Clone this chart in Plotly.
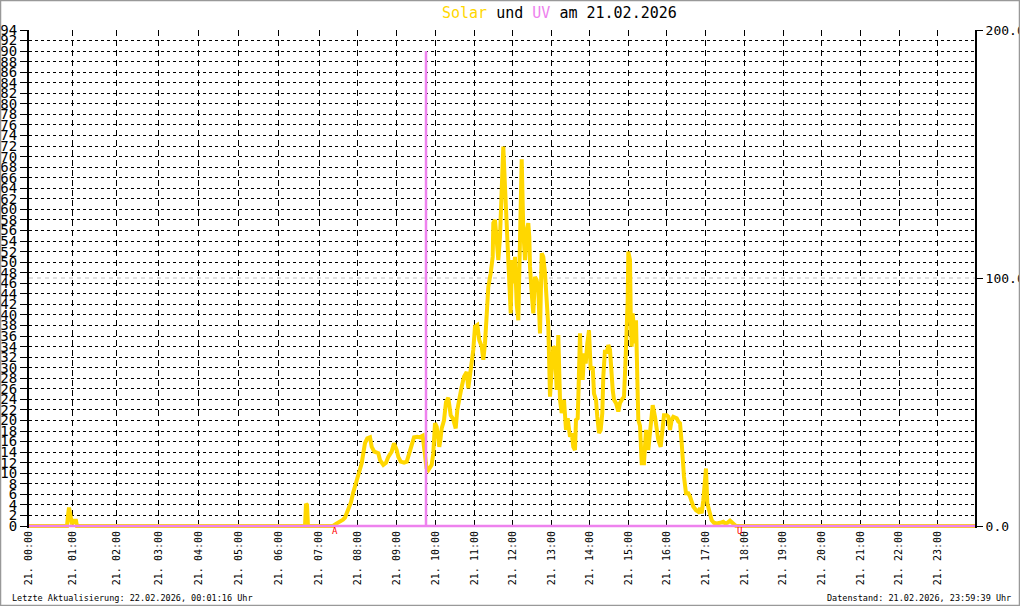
import plotly.graph_objects as go

# ---------------- data ----------------
hour_labels = ["21. %02d:00" % h for h in range(24)]
# sample index at which each hour starts (logger samples are not evenly spread)
hour_index = [0, 43.3, 87.3, 129.3, 169.5, 209.7, 249.9, 290, 328.7, 367.3, 406.3, 445.3,
              483.7, 522.3, 560.7, 599.3, 637.7, 676.7, 715.3, 754, 792.7, 831.4, 870, 908.7]
sample_max = 946

solar_sample = [0, 38, 39, 40, 41, 42, 43, 44, 47, 48,
                276, 277, 278, 279,
                304, 307, 311, 314, 316, 318, 320, 322, 324, 326, 328, 330, 332.7, 334.5, 336, 338.3, 341,
                342.7, 345.3, 349.3, 351, 354.3, 357, 359.3, 362.7, 365, 367.7, 369.3, 371.7, 375, 377.7,
                380.3, 382.7, 385, 388.3, 391, 393.7, 395.3, 396, 397.5, 399.3, 402.7, 404.3, 406, 407.7,
                410.3, 411.5, 412.7, 415, 417, 419.3, 421.7, 424.3, 426.7, 428.3, 430.3, 432.7, 435, 437.7,
                439.3, 441, 442.7, 444.3, 446, 448.3, 450.3, 452.7, 454.3, 456, 457.7, 459.3, 461.7, 463.7,
                464.3, 466, 467.7, 469.3, 471, 472, 473.7, 474.3, 476, 477, 478.3, 479.3, 480.3, 481.7, 483,
                484.3, 486, 487.7, 489.3, 491, 492.7, 494.3, 496, 497.7, 499.3, 500.3, 501, 502.7, 504.3,
                506, 507.7, 509.3, 511, 512.7, 514.3, 516, 517.7, 519.3, 521, 522.7, 524.3, 526, 527.7,
                529.3, 531, 532.7, 535, 537, 538.7, 541, 542.7, 544.3, 546, 547, 548.7, 549.7, 551, 552,
                553.7, 555, 556.7, 558.3, 560, 561.7, 563.7, 565, 567, 568.3, 570, 571.7, 573.3, 574.3,
                576, 577.7, 579.3, 581, 582, 583.7, 585, 587, 589.3, 591, 593.7, 595, 596.3, 597.7, 598.7,
                599.3, 601, 601.7, 602.7, 603.7, 606, 607, 608.3, 609.3, 611, 612.7, 615, 617, 619.3,
                621.7, 623.7, 626, 627.7, 629.3, 631.7, 633.7, 635, 637.7, 639.3, 641, 642.7, 644.3, 647.7,
                649.3, 651, 652.7, 653.7, 655, 657, 659.3, 661, 662.7, 664.3, 667, 669.3, 671, 672.7,
                674.3, 675.3, 677, 678.3, 679.3, 681, 682.7, 685, 687.7, 691, 694.3, 696, 698.3, 701,
                703.3, 705.3, 707, 946]
solar_value = [0, 0, 2.0, 3.5, 2.5, 1.5, 0.3, 1.0, 1.0, 0,
               0, 4.2, 4.0, 0,
               0, 0.4, 0.8, 1.2, 1.6, 2.5, 3.5, 4.5, 6.2, 7.5, 8.4, 9.5, 11.9, 14, 15.7, 16.6, 16.8,
               15, 14.1, 13.8, 12.5, 11.6, 12, 13.1, 14.1, 15.7, 14.4, 13.1, 12.2, 12, 12.2,
               13.8, 15.7, 16.8, 16.9, 16.8, 17.1, 15, 13.1, 11, 10.6, 11.6, 13.8, 19.5, 18.8,
               15, 16.5, 18.5, 20, 23.5, 24.3, 21, 20.2, 18.5, 22, 24.5, 26.4, 28.3, 29.2,
               26.1, 28.3, 30.2, 33.4, 37.8, 38.1, 35.2, 34, 31.5, 34.6, 40, 45.3, 47.9, 51,
               57.4, 58, 54.2, 50.4, 54.8, 59.9, 64.3, 71.9, 64.3, 60.5, 54.8, 50.4, 47.9, 40.3, 50.4,
               46, 51, 42, 39, 51.7, 69.5, 56, 50.4, 56, 57.4, 54.8, 49.1, 44.1, 40.3,
               47.2, 46.6, 44.7, 36.5, 51.7, 51, 47.9, 42.8, 37.8, 24.5, 30.2, 34, 33.7, 25.8,
               36.2, 23.9, 21.4, 23.9, 18.2, 20.4, 16.9, 17.6, 15, 14.4, 20.1, 20.4, 27, 36.5, 30.2,
               27.7, 32.7, 30.8, 34.6, 37.1, 29.6, 30.2, 25.1, 23.9, 20.7, 17.6, 18.2, 21.4, 28.3,
               33.4, 32.7, 34.3, 33.4, 30.2, 25.8, 23.9, 23.3, 21.7, 23.3, 24.2, 24.5, 30.2, 36.5, 42.8,
               52, 50.4, 40, 34, 40.3, 34.6, 39, 30.2, 20.1, 19, 11.9, 11.9, 18.2, 14.4,
               19.5, 22.9, 20.7, 17.6, 16.3, 15, 18.2, 21, 21, 20.7, 18.2, 20.1, 20.7, 20.4,
               19.8, 19.5, 15.7, 12.5, 9.3, 6.2, 6.2, 5.6, 4.3, 3.7, 3.0, 2.7, 3.4, 2.4,
               4.9, 8.1, 10.9, 4.3, 3.4, 1.8, 1.1, 0.6, 0.5, 0.6, 0.8, 0.5, 0.6, 1,
               0.6, 0.2, 0, 0]

uv_sample = [0, 397, 397, 397, sample_max]
uv_value = [0, 0, 90, 0, 0]

sunrise_sample = 306
sunset_sample = 710

left_ticks = list(range(0, 95, 2))
right_ticks = [0, 100, 200]
right_ticktext = ["0.0", "100.0", "200.0"]

title_date = "21.02.2026"
footer_left = "Letzte Aktualisierung: 22.02.2026, 00:01:16 Uhr"
footer_right = "Datenstand: 21.02.2026, 23:59:39 Uhr"

# ---------------- figure ----------------
W, H = 1020, 606
L, R, T, B = 29, 45, 30, 78
PW, PH = W - L - R, H - T - B
ZERO_PX = 526           # pixel row of value 0
TOP_PX = 30             # pixel row of value 94 / 200
left_max, right_max = 94, 200
left_min = -left_max * (H - B - ZERO_PX) / (ZERO_PX - TOP_PX)
right_min = -right_max * (H - B - ZERO_PX) / (ZERO_PX - TOP_PX)


def px(x):
    return (x - L) / PW


def py(y):
    return (H - B - y) / PH


MONO = "DejaVu Sans Mono"
SOLAR_C = "#FFD700"
UV_C = "#EE82EE"

fig = go.Figure()
fig.add_trace(go.Scatter(x=solar_sample, y=solar_value, mode="lines",
                         line=dict(color=SOLAR_C, width=4), hoverinfo="skip", showlegend=False))
fig.add_trace(go.Scatter(x=uv_sample, y=uv_value, mode="lines",
                         line=dict(color=UV_C, width=2.5), hoverinfo="skip", showlegend=False))
# invisible trace to activate right axis
fig.add_trace(go.Scatter(x=[0], y=[0], yaxis="y2", mode="markers",
                         marker=dict(opacity=0), hoverinfo="skip", showlegend=False))

fig.update_layout(
    template="none",
    width=W, height=H,
    margin=dict(l=L, r=R, t=T, b=B, pad=0, autoexpand=False),
    paper_bgcolor="white", plot_bgcolor="white",
    font=dict(family=MONO, color="black"),
    xaxis=dict(range=[0, sample_max], tickmode="array", tickvals=hour_index, ticktext=hour_labels,
               tickangle=-90, ticks="", showline=False, zeroline=False, automargin=False,
               showgrid=True, gridcolor="black", gridwidth=1, griddash="6px,4px",
               tickfont=dict(family=MONO, size=10, color="black")),
    yaxis=dict(range=[left_min, left_max], tickmode="array", tickvals=left_ticks,
               ticks="outside", ticklen=7, tickcolor="black", tickwidth=1, automargin=False,
               showline=True, linecolor="black", linewidth=2, zeroline=False,
               showgrid=True, gridcolor="black", gridwidth=1, griddash="3px,3px",
               tickfont=dict(family=MONO, size=14, color="black")),
    yaxis2=dict(range=[right_min, right_max], overlaying="y", side="right", tickmode="array",
                tickvals=right_ticks, ticktext=right_ticktext, automargin=False,
                ticks="outside", ticklen=6, tickcolor="black", tickwidth=1,
                showline=True, linecolor="black", linewidth=2, zeroline=False, showgrid=False,
                tickfont=dict(family=MONO, size=13, color="black")),
)

fig.add_shape(type="line", xref="paper", yref="y2", x0=0, x1=1, y0=100, y1=100,
              line=dict(color="#C0C0C0", width=1, dash="4px,4px"), layer="below")
# outer frame
fig.add_shape(type="rect", xref="paper", yref="paper",
              x0=px(0.5), x1=px(W - 0.5), y0=py(H - 0.5), y1=py(0.5),
              line=dict(color="#999999", width=1.5))

fig.add_annotation(xref="paper", yref="paper", x=px(559), y=py(13), showarrow=False,
                   xanchor="center", yanchor="middle",
                   text=("<span style='color:%s'>Solar</span> und "
                         "<span style='color:%s'>UV</span> am %s") % (SOLAR_C, UV_C, title_date),
                   font=dict(family=MONO, size=15, color="black"))
fig.add_annotation(xref="paper", yref="paper", x=px(10), y=py(598), showarrow=False,
                   xanchor="left", yanchor="middle", text=footer_left,
                   font=dict(family=MONO, size=8.5, color="black"))
fig.add_annotation(xref="paper", yref="paper", x=px(1013), y=py(598), showarrow=False,
                   xanchor="right", yanchor="middle", text=footer_right,
                   font=dict(family=MONO, size=8.5, color="black"))
for s, t in [(sunrise_sample, "A"), (sunset_sample, "U")]:
    fig.add_annotation(xref="x", yref="paper", x=s, y=py(531), showarrow=False,
                       xanchor="center", yanchor="middle", text=t,
                       font=dict(family=MONO, size=9, color="#FF0000"))

fig.write_html("out.html", config={"displayModeBar": False},
               post_script="document.body.style.margin='0';")
